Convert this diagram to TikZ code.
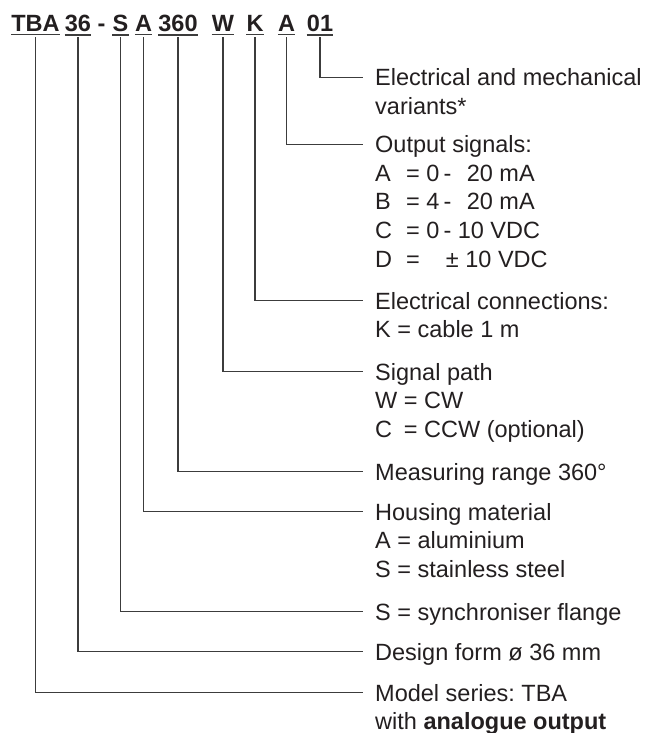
\documentclass[tikz,border=0pt]{standalone}
\usepackage{fontspec}
\setmainfont{Liberation Sans}
\definecolor{ink}{HTML}{231F20}
\definecolor{wire}{HTML}{3C3C3C}
\tikzstyle{code} = [font=\bfseries\fontsize{23.5}{28}\selectfont, text=ink,
    inner sep=0pt, anchor=base]
\tikzstyle{desc} = [font=\fontsize{23.5}{28.5}\selectfont\frenchspacing, text=ink,
    inner sep=0pt, anchor=base west]
\tikzstyle{lead} = [draw=wire, line width=1.2pt, to path={|- (\tikztotarget)}]
\newcommand{\rows}[1]{\begin{tabular}[t]{@{}l@{}}#1\end{tabular}}
\newcommand{\sig}[1]{\makebox[31pt][l]{#1}}

\begin{document}
\begin{tikzpicture}[x=1pt,y=-1pt]
  \useasboundingbox (0,0) rectangle (651,733);

  % order code
  \node[code] (hTBA)  at (35.5,32)  {TBA};
  \node[code] (h36)   at (78,32)    {36};
  \node[code] (hdash) at (101.5,32) {-};
  \node[code] (hS)    at (120.5,32) {S};
  \node[code] (hA)    at (143.5,32) {A};
  \node[code] (h360)  at (178,32)   {360};
  \node[code] (hW)    at (223,32)   {W};
  \node[code] (hK)    at (255,32)   {K};
  \node[code] (hOut)  at (286.5,32) {A};
  \node[code] (h01)   at (320,32)   {01};
  \foreach \n in {hTBA,h36,hS,hA,h360,hW,hK,hOut,h01}
    \draw[wire, line width=1.3pt] ([yshift=-2.5pt]\n.south west) -- ([yshift=-2.5pt]\n.south east);

  % explanations
  \node[desc] (d01)  at (375,86)  {\rows{Electrical and mechanical\\variants*}};
  \node[desc] (dOut) at (375,153) {\rows{Output signals:\\
      \sig{A}= 0\hspace{4pt}-\hspace{15.5pt}20 mA\\
      \sig{B}= 4\hspace{4pt}-\hspace{15.5pt}20 mA\\
      \sig{C}= 0\hspace{4pt}-\hspace{6.5pt}10 VDC\\
      \sig{D}=\hspace{26pt}± 10 VDC}};
  \node[desc] (dK)   at (375,309) {\rows{Electrical connections:\\K = cable 1 m}};
  \node[desc] (dW)   at (375,380) {\rows{Signal path\\W = CW\\\rlap{C}\phantom{W} = CCW (optional)}};
  \node[desc] (d360) at (375,480) {Measuring range 360°};
  \node[desc] (dA)   at (375,520) {\rows{Housing material\\A = aluminium\\S = stainless steel}};
  \node[desc] (dS)   at (375,620) {S = synchroniser flange};
  \node[desc] (d36)  at (375,660) {Design form ø 36 mm};
  \node[desc] (dTBA) at (375,701) {\rows{Model series: TBA\\with \textbf{analogue output}}};

  \path ([yshift=-5pt]h01.south)  edge[lead] ([xshift=-12pt,yshift=8.4pt]d01.base west)
        ([yshift=-5pt]hOut.south) edge[lead] ([xshift=-12pt,yshift=8.4pt]dOut.base west)
        ([yshift=-5pt]hK.south)   edge[lead] ([xshift=-12pt,yshift=8.4pt]dK.base west)
        ([yshift=-5pt]hW.south)   edge[lead] ([xshift=-12pt,yshift=8.4pt]dW.base west)
        ([yshift=-5pt]h360.south) edge[lead] ([xshift=-12pt,yshift=8.4pt]d360.base west)
        ([yshift=-5pt]hA.south)   edge[lead] ([xshift=-12pt,yshift=8.4pt]dA.base west)
        ([yshift=-5pt]hS.south)   edge[lead] ([xshift=-12pt,yshift=8.4pt]dS.base west)
        ([yshift=-5pt]h36.south)  edge[lead] ([xshift=-12pt,yshift=8.4pt]d36.base west)
        ([yshift=-5pt]hTBA.south) edge[lead] ([xshift=-12pt,yshift=8.4pt]dTBA.base west);
\end{tikzpicture}
\end{document}
